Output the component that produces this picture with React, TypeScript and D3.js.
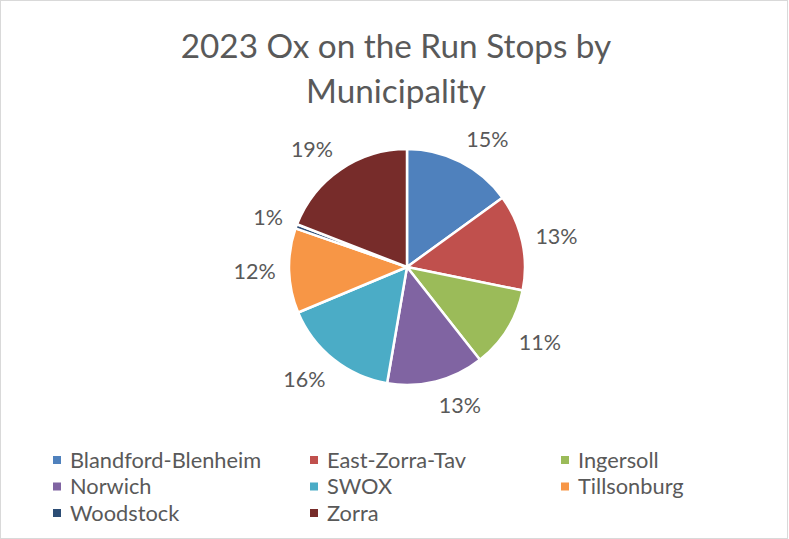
import * as React from 'react';
import * as d3 from 'd3';

const municipalities = [
  'Blandford-Blenheim',
  'East-Zorra-Tav',
  'Ingersoll',
  'Norwich',
  'SWOX',
  'Tillsonburg',
  'Woodstock',
  'Zorra',
];

// share of stops
const stopShare = [15, 13.2, 11.2, 13.3, 16, 11.6, 0.6, 19.1];

const sliceColors = [
  '#4F81BD',
  '#C0504D',
  '#9BBB59',
  '#8064A2',
  '#4BACC6',
  '#F79646',
  '#2C4D75',
  '#772C2A',
];

const titleLines = ['2023 Ox on the Run Stops by', 'Municipality'];

const W = 789;
const H = 539;
const FONT = 'Lato, "Open Sans", sans-serif';
const TEXT = '#595959';

interface Slice {
  name: string;
  value: number;
  color: string;
}

const slices: Slice[] = municipalities.map((name, i) => ({
  name,
  value: stopShare[i],
  color: sliceColors[i],
}));

const App: React.FC = () => {
  const cx = 407;
  const cy = 267;
  const radius = 118;

  const total = d3.sum(slices, (d) => d.value);
  const fmt = d3.format('.0%');

  const pie = d3
    .pie<Slice>()
    .value((d) => d.value)
    .sort(null);
  const arcs = pie(slices);

  const arc = d3.arc<d3.PieArcDatum<Slice>>().innerRadius(0).outerRadius(radius);

  // outside-end labels: box sits just off the rim, shoved sideways by half its width
  const labelPos = (a: d3.PieArcDatum<Slice>, text: string) => {
    const mid = (a.startAngle + a.endAngle) / 2;
    const s = Math.sin(mid);
    const c = Math.cos(mid);
    const w = text.length * 11 + 8;
    const h = 22;
    const r = radius + 14;
    return [r * s + Math.sign(s) * (w / 2), -r * c - (h / 2) * c];
  };

  // legend grid
  const colX = d3.scaleOrdinal<number, number>().domain([0, 1, 2]).range([53, 310, 561]);
  const rowY = d3.scaleLinear().domain([0, 1]).range([460, 486.5]);

  return (
    <svg
      width={W}
      height={H}
      style={{ position: 'absolute', left: 0, top: 0 }}
      fontFamily={FONT}
    >
      <rect x={0} y={0} width={W} height={H} fill="#ffffff" />
      <rect x={0.5} y={0.5} width={W - 2} height={H - 1} fill="none" stroke="#d9d9d9" />

      {/* Title */}
      {titleLines.map((t, i) => (
        <text
          key={t}
          x={396}
          y={58 + i * 45}
          textAnchor="middle"
          fontSize={33.3}
          fill={TEXT}
        >
          {t}
        </text>
      ))}

      {/* Slices */}
      <g transform={`translate(${cx}, ${cy})`}>
        {arcs.map((a) => (
          <path
            key={a.data.name}
            d={arc(a) || ''}
            fill={a.data.color}
            stroke="#ffffff"
            strokeWidth={2.5}
            strokeLinejoin="round"
          />
        ))}
        {arcs.map((a) => {
          const label = fmt(a.data.value / total);
          const [lx, ly] = labelPos(a, label);
          return (
            <text
              key={`l-${a.data.name}`}
              x={lx}
              y={ly}
              dy="0.36em"
              textAnchor="middle"
              fontSize={21.5}
              fill={TEXT}
            >
              {label}
            </text>
          );
        })}
      </g>

      {/* Legend */}
      {slices.map((d, i) => {
        const x = colX(i % 3);
        const y = rowY(Math.floor(i / 3));
        return (
          <g key={`lg-${d.name}`} transform={`translate(${x}, ${y})`}>
            <rect x={0} y={-4} width={8} height={8} fill={d.color} />
            <text x={17} y={0} dy="0.36em" fontSize={21.8} fill={TEXT}>
              {d.name}
            </text>
          </g>
        );
      })}
    </svg>
  );
};

export default App;
